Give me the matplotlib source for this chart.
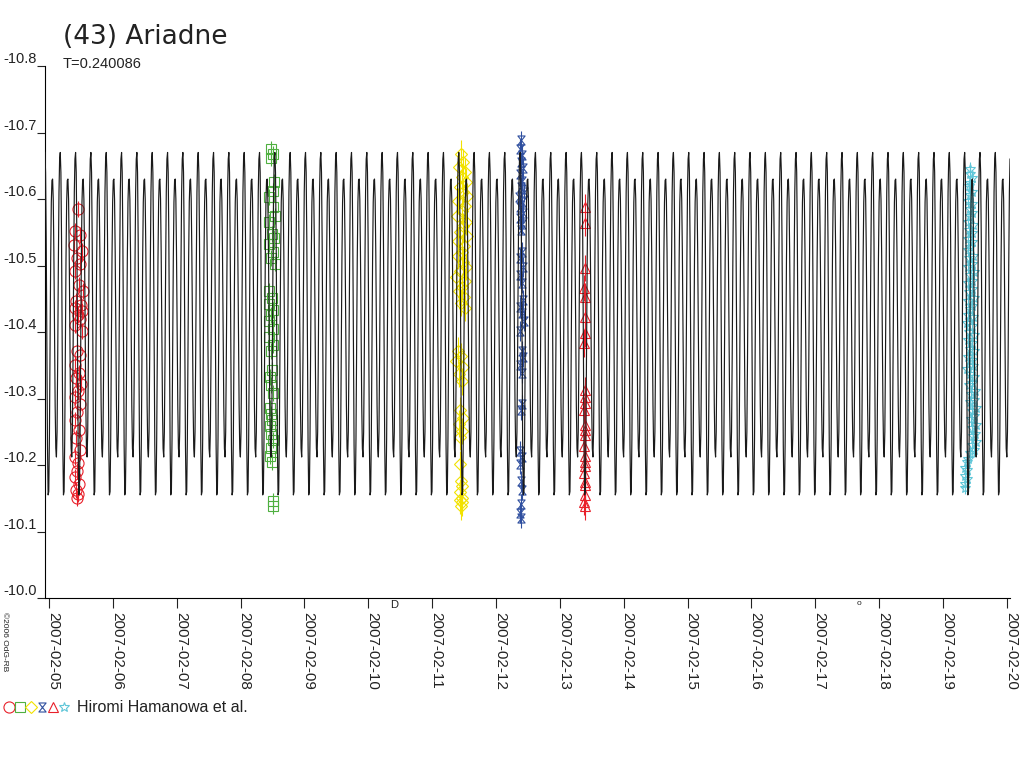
import numpy as np
import matplotlib
matplotlib.use('Agg')
import matplotlib.pyplot as plt
from matplotlib.path import Path
from matplotlib.lines import Line2D
from matplotlib.legend_handler import HandlerTuple

plt.rcParams['font.family'] = ['Liberation Sans', 'DejaVu Sans']

# lightcurve model: period (days) and one cycle of magnitudes
period = 0.240086
epoch = 5.175
cycle_mags = [-10.670, -10.640, -10.540, -10.380, -10.230, -10.155, -10.160, -10.240,
              -10.380, -10.510, -10.595, -10.628, -10.630, -10.600, -10.520, -10.400,
              -10.290, -10.225, -10.212, -10.250, -10.360, -10.500, -10.610, -10.660]

tick_days = list(range(5, 21))
tick_labels = ['2007-02-%02d' % d for d in tick_days]
y_ticks = [-10.8, -10.7, -10.6, -10.5, -10.4, -10.3, -10.2, -10.1, -10.0]

moon_days = [10.41, 17.68]
moon_signs = ['D', 'o']

# observations (day of Feb 2007, magnitude)
red_t = [5.45, 5.41, 5.48, 5.39, 5.51, 5.44, 5.49, 5.40, 5.47, 5.53,
         5.42, 5.50, 5.40, 5.52, 5.45, 5.48, 5.41, 5.51, 5.44, 5.49,
         5.40, 5.47, 5.42, 5.50, 5.45, 5.41, 5.48, 5.44, 5.41, 5.47,
         5.42, 5.49, 5.40, 5.45, 5.44, 5.41, 5.47, 5.42, 5.45, 5.44]
red_m = [-10.585, -10.552, -10.546, -10.531, -10.522, -10.512, -10.503, -10.492, -10.471, -10.462,
         -10.447, -10.441, -10.436, -10.431, -10.426, -10.419, -10.411, -10.402, -10.372, -10.366,
         -10.351, -10.339, -10.331, -10.322, -10.311, -10.302, -10.291, -10.279, -10.268, -10.252,
         -10.241, -10.223, -10.212, -10.203, -10.191, -10.182, -10.171, -10.163, -10.156, -10.150]

green_t = [8.48, 8.50, 8.47, 8.52, 8.50, 8.45, 8.51, 8.54, 8.44, 8.49,
           8.53, 8.45, 8.51, 8.47, 8.54, 8.45, 8.49, 8.44, 8.51, 8.47,
           8.45, 8.50, 8.44, 8.51, 8.47, 8.49, 8.46, 8.48, 8.50, 8.46,
           8.47, 8.49, 8.46, 8.48, 8.50, 8.47, 8.46, 8.49, 8.51, 8.50]
green_m = [-10.675, -10.668, -10.662, -10.625, -10.612, -10.603, -10.588, -10.575, -10.566, -10.548,
           -10.541, -10.532, -10.521, -10.512, -10.503, -10.462, -10.451, -10.442, -10.433, -10.425,
           -10.416, -10.405, -10.392, -10.381, -10.372, -10.343, -10.332, -10.321, -10.308, -10.285,
           -10.276, -10.268, -10.259, -10.247, -10.238, -10.226, -10.214, -10.205, -10.146, -10.138]

yellow_t = [11.45, 11.49, 11.42, 11.51, 11.47, 11.53, 11.44, 11.49, 11.54, 11.41,
            11.51, 11.46, 11.39, 11.53, 11.48, 11.44, 11.55, 11.41, 11.50, 11.46,
            11.40, 11.49, 11.53, 11.44, 11.38, 11.51, 11.47, 11.42, 11.50, 11.45,
            11.52, 11.40, 11.45, 11.38, 11.49, 11.42, 11.47, 11.44, 11.49, 11.42,
            11.47, 11.44, 11.43, 11.45, 11.47, 11.43, 11.46, 11.47, 11.45, 11.44]
yellow_m = [-10.668, -10.655, -10.648, -10.641, -10.633, -10.626, -10.618, -10.611, -10.604, -10.597,
            -10.589, -10.582, -10.574, -10.566, -10.559, -10.551, -10.544, -10.537, -10.529, -10.521,
            -10.514, -10.506, -10.498, -10.491, -10.483, -10.476, -10.468, -10.461, -10.452, -10.444,
            -10.436, -10.372, -10.364, -10.356, -10.348, -10.337, -10.326, -10.282, -10.271, -10.262,
            -10.251, -10.242, -10.201, -10.176, -10.168, -10.159, -10.151, -10.144, -10.138, -10.147]

blue_t = [12.39, 12.37, 12.41, 12.39, 12.43, 12.37, 12.41, 12.39, 12.44, 12.36,
          12.41, 12.38, 12.43, 12.37, 12.41, 12.39, 12.41, 12.38, 12.43, 12.37,
          12.41, 12.43, 12.38, 12.41, 12.44, 12.38, 12.41, 12.43, 12.38, 12.41,
          12.41, 12.39, 12.38, 12.41, 12.37, 12.39, 12.41, 12.39, 12.37, 12.39]
blue_m = [-10.688, -10.675, -10.666, -10.655, -10.646, -10.638, -10.627, -10.618, -10.611, -10.603,
          -10.596, -10.588, -10.579, -10.571, -10.562, -10.553, -10.521, -10.511, -10.498, -10.486,
          -10.474, -10.448, -10.437, -10.428, -10.416, -10.402, -10.371, -10.362, -10.351, -10.338,
          -10.291, -10.282, -10.221, -10.212, -10.201, -10.176, -10.163, -10.141, -10.128, -10.121]

tri_t = [13.39, 13.40, 13.39, 13.38, 13.39, 13.40, 13.39, 13.38, 13.39, 13.40,
         13.39, 13.38, 13.39, 13.40, 13.39, 13.38, 13.39, 13.40, 13.39, 13.38,
         13.39, 13.40, 13.39, 13.38, 13.39]
tri_m = [-10.588, -10.564, -10.496, -10.466, -10.453, -10.423, -10.398, -10.383, -10.313, -10.303,
         -10.293, -10.283, -10.260, -10.253, -10.245, -10.228, -10.213, -10.205, -10.198, -10.188,
         -10.175, -10.170, -10.155, -10.145, -10.138]

cyan_t = [19.43, 19.42, 19.45, 19.43, 19.41, 19.46, 19.43, 19.40, 19.45, 19.42,
          19.46, 19.43, 19.40, 19.47, 19.41, 19.45, 19.39, 19.46, 19.43, 19.40,
          19.47, 19.41, 19.45, 19.39, 19.48, 19.43, 19.46, 19.40, 19.45, 19.41,
          19.48, 19.39, 19.46, 19.43, 19.40, 19.47, 19.38, 19.45, 19.41, 19.48,
          19.39, 19.46, 19.43, 19.49, 19.40, 19.45, 19.47, 19.38, 19.43, 19.49,
          19.46, 19.41, 19.50, 19.44, 19.48, 19.42, 19.51, 19.46, 19.49, 19.44,
          19.51, 19.46, 19.50, 19.47, 19.52, 19.45, 19.49, 19.43, 19.39, 19.37,
          19.35, 19.38, 19.34, 19.37, 19.35, 19.34]
cyan_m = [-10.645, -10.637, -10.632, -10.624, -10.619, -10.610, -10.606, -10.597, -10.593, -10.585,
          -10.579, -10.574, -10.566, -10.561, -10.553, -10.549, -10.540, -10.536, -10.528, -10.523,
          -10.515, -10.511, -10.502, -10.498, -10.490, -10.485, -10.477, -10.473, -10.464, -10.460,
          -10.451, -10.447, -10.439, -10.434, -10.426, -10.422, -10.413, -10.409, -10.400, -10.396,
          -10.388, -10.383, -10.375, -10.371, -10.362, -10.358, -10.349, -10.345, -10.337, -10.332,
          -10.324, -10.320, -10.311, -10.307, -10.298, -10.294, -10.286, -10.281, -10.273, -10.269,
          -10.260, -10.256, -10.247, -10.243, -10.235, -10.230, -10.222, -10.218, -10.209, -10.205,
          -10.196, -10.192, -10.184, -10.179, -10.171, -10.166]

# hourglass box marker used for the blue series
hourglass = Path([(-0.8, 1), (0.8, 1), (-0.8, -1), (0.8, -1), (-0.8, 1)],
                 [Path.MOVETO, Path.LINETO, Path.LINETO, Path.LINETO, Path.CLOSEPOLY])

groups = [
    (red_t, red_m, 0.012, 'o', '#e8202a', 8),
    (green_t, green_m, 0.012, 's', '#4fb040', 7),
    (yellow_t, yellow_m, 0.02, 'D', '#f2e200', 6.5),
    (blue_t, blue_m, 0.015, hourglass, '#2f4f9f', 6.5),
    (tri_t, tri_m, 0.02, '^', '#e8202a', 7),
    (cyan_t, cyan_m, 0.01, '*', '#5fc6d8', 7.5),
]

fig = plt.figure(figsize=(10.24, 7.68), dpi=100)
ax = fig.add_axes([45 / 1024, 1 - 598 / 768, 965 / 1024, 532 / 768])

# model curve
step = period / len(cycle_mags)
k = np.arange(-len(cycle_mags), int((20.2 - epoch) / step) + 1)
model_t = epoch + k * step
model_m = np.array(cycle_mags)[k % len(cycle_mags)]

for t, m, e, mk, c, ms in groups:
    ax.errorbar(t, m, yerr=e, fmt='none', ecolor=c, elinewidth=0.8, zorder=2)
    ax.plot(t, m, ls='none', marker=mk, mfc='none', mec=c, ms=ms, mew=0.8, zorder=2)

ax.plot(model_t, model_m, color='#1a1a1a', lw=0.85, zorder=3)

ax.set_xlim(4.936, 20.05)
ax.set_ylim(-10.0, -10.8)

ax.spines['top'].set_visible(False)
ax.spines['right'].set_visible(False)
ax.spines['left'].set_linewidth(0.8)
ax.spines['bottom'].set_linewidth(0.8)

ax.set_xticks(tick_days)
ax.set_xticklabels(tick_labels)
ax.set_yticks(y_ticks)
ax.set_yticklabels(['%.1f' % v for v in y_ticks])
ax.tick_params(axis='x', direction='out', length=7, width=0.8, pad=3, labelsize=11, colors='#222222')
ax.tick_params(axis='y', direction='out', length=6, width=0.8, pad=0, labelsize=10.5, colors='#222222')
plt.setp(ax.get_xticklabels(), rotation=-90, rotation_mode='anchor', ha='left', va='baseline')
plt.setp(ax.get_yticklabels(), va='bottom')

# moon phases under the axis
for d, s in zip(moon_days, moon_signs):
    ax.annotate(s, xy=(d, -10.0), xytext=(0, -1.5), textcoords='offset points',
                ha='center', va='top', fontsize=8 if s == 'D' else 6, color='#222222')

fig.text(63 / 1024, 1 - 44.5 / 768, '(43) Ariadne', fontsize=19, family='DejaVu Sans',
         va='baseline', color='#222222')
fig.text(63 / 1024, 1 - 68.5 / 768, 'T=0.240086', fontsize=10.5, va='baseline', color='#222222')
fig.text(1 / 1024, 1 - 612 / 768, '\u00a92006 OdG-RB', fontsize=6, rotation=-90,
         ha='left', va='top', color='#222222')

handles = [Line2D([], [], ls='none', marker=mk, mfc='none', mec=c, ms=ms, mew=0.8)
           for _, _, _, mk, c, ms in groups]
fig.legend([tuple(handles)], ['Hiromi Hamanowa et al.'],
           handler_map={tuple: HandlerTuple(ndivide=None, pad=0)},
           loc='center left', bbox_to_anchor=(4 / 1024, 1 - 708 / 768),
           frameon=False, borderpad=0, borderaxespad=0,
           handlelength=4.1, handletextpad=0.45, fontsize=11.5, labelcolor='#222222')

fig.savefig('out.png', dpi=100)
plt.close()
